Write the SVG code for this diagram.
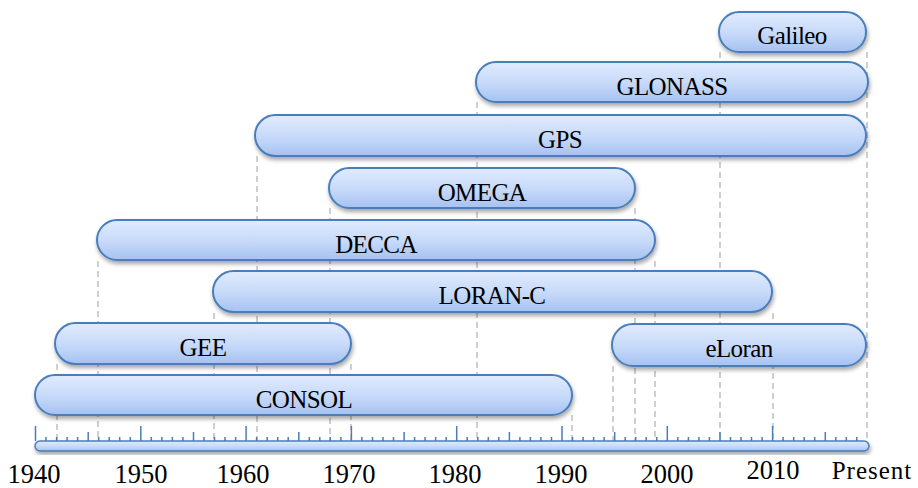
<svg xmlns="http://www.w3.org/2000/svg" width="918" height="488" viewBox="0 0 918 488">
  <style>
    .bar { fill: url(#barFill); stroke: #4a7ebb; stroke-width: 2; filter: url(#shadow); }
    text { font-family: 'Liberation Serif', 'Times New Roman', Times, 'DejaVu Serif', serif; font-size: 25px; fill: #000; text-anchor: middle; }
    .lbl { letter-spacing: -0.6px; }
    .yr { font-size: 26.5px; }
    .guide { stroke: #c4c4c4; stroke-width: 1.6; stroke-dasharray: 6 4; fill: none; }
    .tick { stroke: #4a7ebb; stroke-width: 1.5; }
  </style>
  <defs>
    <linearGradient id="barFill" x1="0" y1="0" x2="0" y2="1">
      <stop offset="0" stop-color="#e0ebfd"/>
      <stop offset="0.5" stop-color="#c9dbfa"/>
      <stop offset="1" stop-color="#a6c2f1"/>
    </linearGradient>
    <filter id="shadow" x="-5%" y="-30%" width="110%" height="170%">
      <feDropShadow dx="1" dy="3" stdDeviation="2" flood-color="#000" flood-opacity="0.35"/>
    </filter>
  </defs>

  <!-- dashed guide lines from each system's start/end down to the axis -->
  <g id="connectors">
    <line class="guide" x1="57" y1="364" x2="57" y2="441"/>
    <line class="guide" x1="98" y1="261" x2="98" y2="441"/>
    <line class="guide" x1="214" y1="313" x2="214" y2="441"/>
    <line class="guide" x1="257" y1="156" x2="257" y2="441"/>
    <line class="guide" x1="330" y1="208" x2="330" y2="441"/>
    <line class="guide" x1="351" y1="364" x2="351" y2="441"/>
    <line class="guide" x1="477" y1="102" x2="477" y2="441"/>
    <line class="guide" x1="572" y1="415" x2="572" y2="441"/>
    <line class="guide" x1="613" y1="366" x2="613" y2="441"/>
    <line class="guide" x1="635" y1="208" x2="635" y2="441"/>
    <line class="guide" x1="655" y1="261" x2="655" y2="441"/>
    <line class="guide" x1="720" y1="52" x2="720" y2="441"/>
    <line class="guide" x1="773" y1="313" x2="773" y2="441"/>
    <line class="guide" x1="867" y1="52" x2="867" y2="441"/>
  </g>

  <!-- navigation systems -->
  <g id="galileo">
    <rect class="bar" x="719" y="12" width="147" height="40" rx="20"/>
    <text class="lbl" x="792" y="44">Galileo</text>
  </g>
  <g id="glonass">
    <rect class="bar" x="476" y="62" width="392" height="40" rx="20"/>
    <text class="lbl" x="672" y="95">GLONASS</text>
  </g>
  <g id="gps">
    <rect class="bar" x="255" y="115" width="611" height="41" rx="20.5"/>
    <text class="lbl" x="560" y="148">GPS</text>
  </g>
  <g id="omega">
    <rect class="bar" x="329" y="168" width="306" height="40" rx="20"/>
    <text class="lbl" x="482" y="201">OMEGA</text>
  </g>
  <g id="decca">
    <rect class="bar" x="97" y="220" width="558" height="40" rx="20"/>
    <text class="lbl" x="376" y="253">DECCA</text>
  </g>
  <g id="loran-c">
    <rect class="bar" x="213" y="271" width="559" height="41" rx="20.5"/>
    <text class="lbl" x="492" y="304">LORAN-C</text>
  </g>
  <g id="gee">
    <rect class="bar" x="55" y="323" width="296" height="41" rx="20.5"/>
    <text class="lbl" x="203" y="356">GEE</text>
  </g>
  <g id="eloran">
    <rect class="bar" x="612" y="324" width="254" height="42" rx="21"/>
    <text class="lbl" x="739" y="357">eLoran</text>
  </g>
  <g id="consol">
    <rect class="bar" x="35" y="375" width="537" height="40" rx="20"/>
    <text class="lbl" x="304" y="408">CONSOL</text>
  </g>

  <!-- time axis -->
  <g id="axis">
    <g id="ticks">
      <!-- decades -->
      <path class="tick" d="M35.5 426V441M140.8 426V441M246.1 426V441M351.4 426V441M456.7 426V441M562 426V441M667.3 426V441M772.6 426V441"/>
      <!-- half decades -->
      <path class="tick" d="M88.2 432V441M193.5 432V441M298.8 432V441M404.1 432V441M509.4 432V441M614.7 432V441M720 432V441M825.3 432V441"/>
      <!-- single years -->
      <path class="tick" d="M46 437V441M56.6 437V441M67.1 437V441M77.6 437V441M98.7 437V441M109.2 437V441M119.7 437V441M130.3 437V441M151.3 437V441M161.9 437V441M172.4 437V441M182.9 437V441M204 437V441M214.5 437V441M225 437V441M235.6 437V441M256.6 437V441M267.2 437V441M277.7 437V441M288.2 437V441M309.3 437V441M319.8 437V441M330.3 437V441M340.9 437V441M361.9 437V441M372.5 437V441M383 437V441M393.5 437V441M414.6 437V441M425.1 437V441M435.6 437V441M446.2 437V441M467.2 437V441M477.8 437V441M488.3 437V441M498.8 437V441M519.9 437V441M530.4 437V441M540.9 437V441M551.5 437V441M572.5 437V441M583.1 437V441M593.6 437V441M604.1 437V441M625.2 437V441M635.7 437V441M646.2 437V441M656.8 437V441M677.8 437V441M688.4 437V441M698.9 437V441M709.4 437V441M730.5 437V441M741 437V441M751.5 437V441M762.1 437V441M783.1 437V441M793.7 437V441M804.2 437V441M814.7 437V441M835.8 437V441M846.3 437V441M856.8 437V441"/>
    </g>
    <rect x="35" y="441" width="834" height="10" rx="5" fill="url(#barFill)" stroke="#4a7ebb" stroke-width="1.5" filter="url(#shadow)"/>
    <g id="years">
      <text class="yr" x="34" y="483">1940</text>
      <text class="yr" x="141" y="483">1950</text>
      <text class="yr" x="243" y="483">1960</text>
      <text class="yr" x="349" y="483">1970</text>
      <text class="yr" x="455" y="483">1980</text>
      <text class="yr" x="561" y="483">1990</text>
      <text class="yr" x="667" y="483">2000</text>
      <text class="yr" x="773" y="479">2010</text>
      <text x="872" y="479" letter-spacing="1">Present</text>
    </g>
  </g>
</svg>
